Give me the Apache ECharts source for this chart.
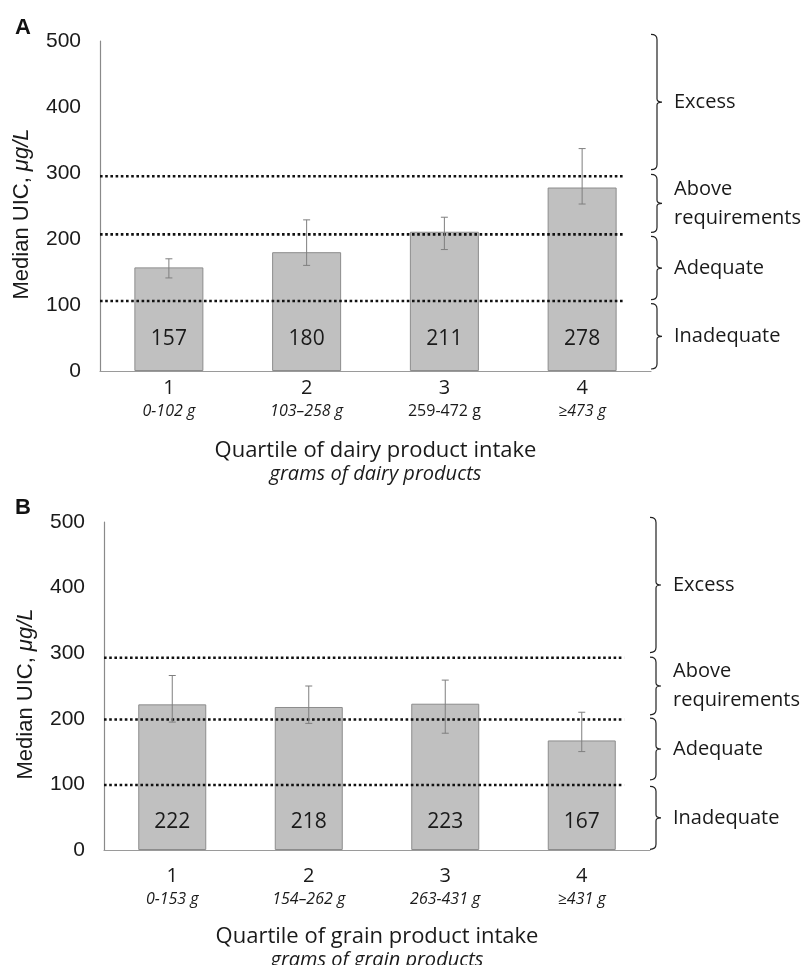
<!DOCTYPE html>
<html>
<head>
<meta charset="utf-8">
<script src="https://cdn.jsdelivr.net/npm/echarts@6/dist/echarts.min.js"></script>
<style>html,body{margin:0;padding:0;background:#fff;}#chart{width:810px;height:965px;}</style>
</head>
<body>
<div id="chart"></div>
<script>
// ---- data ----
const categories = ['1', '2', '3', '4'];
const rangesA = ['0-102 g', '103–258 g', '259-472 g', '≥473 g'];
const rangesB = ['0-153 g', '154–262 g', '263-431 g', '≥431 g'];
const uprightA = [false, false, true, false];   // the reference prints "259-472 g" upright
const uprightB = [false, false, false, false];
const valuesA = [157, 180, 211, 278];
const valuesB = [222, 218, 223, 167];
const errLowA = [141, 160, 184, 253];
const errHighA = [170, 229, 233, 337];
const errLowB = [195, 193, 178, 150];
const errHighB = [266, 250, 259, 210];
const cutoffsA = [106, 207, 295];
const cutoffsB = [99, 199, 293];
const bandNames = ['Inadequate', 'Adequate', 'Above\nrequirements', 'Excess'];
const bandsA = [[3, 102], [108, 204], [210, 298], [305, 510]];
const bandsB = [[1, 97], [107, 201], [206, 294], [301, 507]];
const yMin = 0, yMax = 500, yStep = 100;
const xTitleA = 'Quartile of dairy product intake';
const xSubA = 'grams of dairy products';
const xTitleB = 'Quartile of grain product intake';
const xSubB = 'grams of grain products';
const yTitle = 'Median UIC, ';
const yUnit = 'μg/L';

// ---- drawing ----
const CAL = '"Open Sans", "Liberation Sans", sans-serif';
const ARI = '"Liberation Sans", Arial, sans-serif';
const DOT_END = 3.81;

function errRender(params, api) {
  const x = api.value(0);
  const lo = api.coord([x, api.value(1)]);
  const hi = api.coord([x, api.value(2)]);
  const hw = 3.5;
  const st = { stroke: '#7f7f7f', lineWidth: 1 };
  return { type: 'group', children: [
    { type: 'line', shape: { x1: lo[0], y1: lo[1], x2: hi[0], y2: hi[1] }, style: st },
    { type: 'line', shape: { x1: lo[0] - hw, y1: lo[1], x2: lo[0] + hw, y2: lo[1] }, style: st },
    { type: 'line', shape: { x1: hi[0] - hw, y1: hi[1], x2: hi[0] + hw, y2: hi[1] }, style: st }
  ]};
}

function dotRender(params, api) {
  const c = api.value(0);
  const a = api.coord([0, c]);
  const b = api.coord([DOT_END, c]);
  return { type: 'line', shape: { x1: a[0], y1: a[1], x2: b[0], y2: b[1] },
    style: { stroke: '#111', lineWidth: 2.6, lineDash: [2.6, 2.6] } };
}

function braceRender(params, api) {
  const top = api.coord([4, api.value(1)]);
  const bot = api.coord([4, api.value(0)]);
  const name = bandNames[api.value(2)];
  const x0 = top[0] + 6;
  const t = top[1], b = bot[1], m = (t + b) / 2;
  const p = `M ${x0 - 6} ${t} Q ${x0} ${t} ${x0} ${t + 5} L ${x0} ${m - 3} Q ${x0} ${m} ${x0 + 5} ${m} Q ${x0} ${m} ${x0} ${m + 3} L ${x0} ${b - 5} Q ${x0} ${b} ${x0 - 6} ${b}`;
  return { type: 'group', children: [
    { type: 'path', shape: { pathData: p }, style: { fill: 'none', stroke: '#222', lineWidth: 1.2 } },
    { type: 'text', x: x0 + 17, y: m, style: { text: name, fill: '#1a1a1a', font: '20px ' + CAL, align: 'left', verticalAlign: 'middle', lineHeight: 29 } }
  ]};
}

function panel(idx, values, lo, hi, cutoffs, bands, ranges, upright, xTitle, xSub, barW, labelDist, catMargin, nameGap) {
  const xAxes = [
    { gridIndex: idx, type: 'category', data: categories,
      axisLine: { lineStyle: { color: '#9a9a9a', width: 1.2 } }, axisTick: { show: false },
      axisLabel: { margin: catMargin, interval: 0,
        formatter: (v, i) => '{a|' + v + '}\n{' + (upright[i] ? 'c' : 'b') + '|' + ranges[i] + '}',
        rich: { a: { fontFamily: CAL, fontSize: 20, color: '#1a1a1a', lineHeight: 24 },
                b: { fontFamily: CAL, fontSize: 16, fontStyle: 'italic', color: '#1a1a1a', lineHeight: 23 },
                c: { fontFamily: CAL, fontSize: 16, color: '#1a1a1a', lineHeight: 23 } } },
      name: '{a|' + xTitle + '}\n{b|' + xSub + '}', nameLocation: 'middle', nameGap: nameGap,
      nameTextStyle: { rich: { a: { fontFamily: CAL, fontSize: 22, color: '#1a1a1a', lineHeight: 24 },
                              b: { fontFamily: CAL, fontSize: 20, fontStyle: 'italic', color: '#1a1a1a', lineHeight: 23 } } } },
    { gridIndex: idx, type: 'value', min: 0, max: 4, show: false }
  ];
  const yAxis = { gridIndex: idx, type: 'value', min: yMin, max: yMax, interval: yStep,
    axisLine: { show: true, lineStyle: { color: '#8a8a8a', width: 1.2 } }, axisTick: { show: false },
    splitLine: { show: false },
    axisLabel: { fontFamily: ARI, fontSize: 21, color: '#1a1a1a', margin: 19 },
    name: '{a|' + yTitle + '}{b|' + yUnit + '}', nameLocation: 'middle', nameGap: 67,
    nameTextStyle: { padding: [0, 16, 0, 0], rich: { a: { fontFamily: ARI, fontSize: 22, color: '#1a1a1a' },
                             b: { fontFamily: ARI, fontSize: 22, fontStyle: 'italic', color: '#1a1a1a' } } } };
  const xi = idx * 2;
  const series = [
    { type: 'bar', xAxisIndex: xi, yAxisIndex: idx, data: values, barWidth: barW,
      itemStyle: { color: '#c0c0c0', borderColor: '#8c8c8c', borderWidth: 1 },
      label: { show: true, position: 'insideBottom', distance: labelDist, fontFamily: CAL, fontSize: 21, color: '#1a1a1a', lineHeight: 20 },
      silent: true, animation: false },
    { type: 'custom', xAxisIndex: xi + 1, yAxisIndex: idx, data: cutoffs.map(c => [c]), renderItem: dotRender, silent: true, z: 3, animation: false },
    { type: 'custom', xAxisIndex: xi, yAxisIndex: idx, data: categories.map((c, i) => [i, lo[i], hi[i]]), renderItem: errRender, silent: true, z: 4, animation: false },
    { type: 'custom', xAxisIndex: xi + 1, yAxisIndex: idx, data: bands.map((b, i) => [b[0], b[1], i]), renderItem: braceRender, silent: true, clip: false, animation: false }
  ];
  return { xAxes, yAxis, series };
}

const pA = panel(0, valuesA, errLowA, errHighA, cutoffsA, bandsA, rangesA, uprightA, xTitleA, xSubA, 69, 22, 5, 68);
const pB = panel(1, valuesB, errLowB, errHighB, cutoffsB, bandsB, rangesB, uprightB, xTitleB, xSubB, 68, 18, 14, 75);

const chart = echarts.init(document.getElementById('chart'), null, { renderer: 'canvas' });
chart.setOption({
  animation: false,
  backgroundColor: '#fff',
  title: [
    { text: 'A', left: 10, top: 12, textStyle: { fontFamily: ARI, fontWeight: 'bold', fontSize: 22, color: '#111' } },
    { text: 'B', left: 10, top: 492, textStyle: { fontFamily: ARI, fontWeight: 'bold', fontSize: 22, color: '#111' } }
  ],
  grid: [
    { left: 100, top: 41, width: 551, height: 330, outerBoundsMode: 'none', containLabel: false },
    { left: 104, top: 522, width: 546, height: 328, outerBoundsMode: 'none', containLabel: false }
  ],
  xAxis: pA.xAxes.concat(pB.xAxes),
  yAxis: [pA.yAxis, pB.yAxis],
  series: pA.series.concat(pB.series)
});
</script>
</body>
</html>
